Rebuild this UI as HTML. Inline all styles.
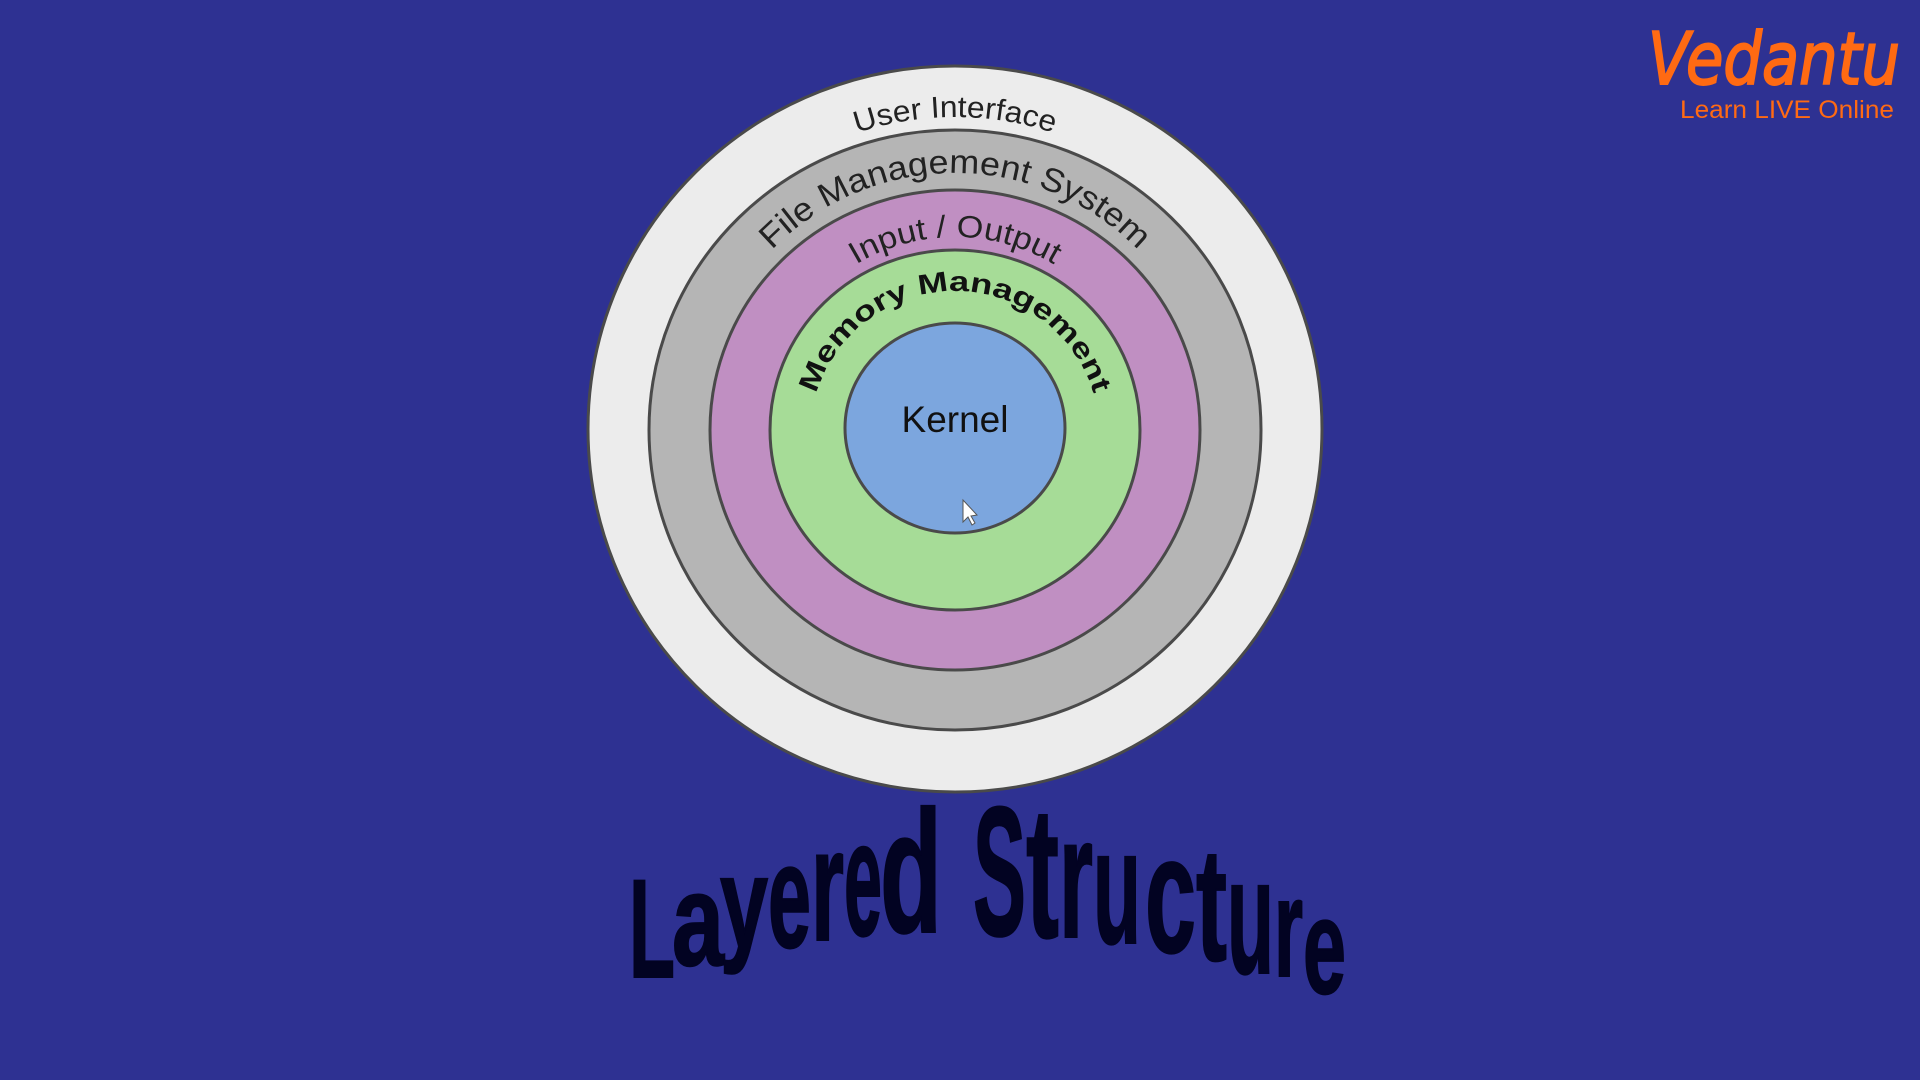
<!DOCTYPE html>
<html><head><meta charset="utf-8"><style>
html,body{margin:0;padding:0;background:#2e3192;}
svg{display:block}
</style></head><body>
<svg width="1920" height="1080" viewBox="0 0 1920 1080" xmlns="http://www.w3.org/2000/svg">
<rect width="1920" height="1080" fill="#2e3192"/>
<g stroke="#4a4a4a" stroke-width="3">
<ellipse cx="955" cy="429" rx="367" ry="363" fill="#ececec"/>
<ellipse cx="955" cy="430" rx="306" ry="300" fill="#b5b5b5"/>
<ellipse cx="955" cy="430" rx="245" ry="240" fill="#c08fc2"/>
<ellipse cx="955" cy="430" rx="185" ry="180" fill="#a6dc97"/>
<ellipse cx="955" cy="428" rx="110" ry="105" fill="#7ca6de"/>
</g>
<defs>
<path id="a1" d="M 643 429 A 312 312 0 0 1 1267 429"/>
<path id="a2" d="M 699 429 A 256 256 0 0 1 1211 429"/>
<path id="a3" d="M 763 429 A 192 192 0 0 1 1147 429"/>
<path id="a4" d="M 810 436 A 145 145 0 0 1 1100 436"/>
</defs>
<g font-family="Liberation Sans, sans-serif" fill="#222" text-anchor="middle">
<text font-size="30" textLength="200" lengthAdjust="spacingAndGlyphs"><textPath href="#a1" startOffset="50%">User Interface</textPath></text>
<text font-size="33" textLength="408" lengthAdjust="spacingAndGlyphs"><textPath href="#a2" startOffset="50%">File Management System</textPath></text>
<text font-size="31" textLength="208" lengthAdjust="spacingAndGlyphs"><textPath href="#a3" startOffset="50%">Input / Output</textPath></text>
<text font-size="28" font-weight="bold" fill="#111" textLength="370" lengthAdjust="spacingAndGlyphs"><textPath href="#a4" startOffset="50%">Memory Management</textPath></text>
<text x="955" y="432" font-size="37" fill="#111">Kernel</text>
</g>
<polygon points="963,500 963,522 968,517 972,525 975,523 971,516 977,515" fill="#fff" stroke="#555" stroke-width="1"/>
<g font-family="Liberation Sans, sans-serif" font-weight="bold" fill="#020322" stroke="#020322" stroke-width="2">
<text x="629" y="977" font-size="140" textLength="46" lengthAdjust="spacingAndGlyphs">L</text>
<text x="672" y="965" font-size="131" textLength="52" lengthAdjust="spacingAndGlyphs">a</text>
<text x="720" y="947" font-size="129" textLength="48" lengthAdjust="spacingAndGlyphs">y</text>
<text x="768" y="947" font-size="148" textLength="43" lengthAdjust="spacingAndGlyphs">e</text>
<text x="811" y="940" font-size="160" textLength="33" lengthAdjust="spacingAndGlyphs">r</text>
<text x="844" y="935" font-size="164" textLength="38" lengthAdjust="spacingAndGlyphs">e</text>
<text x="880" y="932" font-size="174" textLength="62" lengthAdjust="spacingAndGlyphs">d</text>
<text x="973" y="935" font-size="184" textLength="53" lengthAdjust="spacingAndGlyphs">S</text>
<text x="1026" y="937" font-size="187" textLength="33" lengthAdjust="spacingAndGlyphs">t</text>
<text x="1059" y="937" font-size="173" textLength="34" lengthAdjust="spacingAndGlyphs">r</text>
<text x="1093" y="943" font-size="163" textLength="48" lengthAdjust="spacingAndGlyphs">u</text>
<text x="1145" y="952" font-size="167" textLength="51" lengthAdjust="spacingAndGlyphs">c</text>
<text x="1196" y="960" font-size="161" textLength="31" lengthAdjust="spacingAndGlyphs">t</text>
<text x="1227" y="973" font-size="165" textLength="47" lengthAdjust="spacingAndGlyphs">u</text>
<text x="1274" y="976" font-size="140" textLength="29" lengthAdjust="spacingAndGlyphs">r</text>
<text x="1303" y="993" font-size="135" textLength="43" lengthAdjust="spacingAndGlyphs">e</text>
</g>
<g fill="#ff6a13" font-family="DejaVu Sans, sans-serif">
<text x="1648" y="84" font-size="72" font-style="italic" stroke="#ff6a13" stroke-width="2" textLength="252" lengthAdjust="spacingAndGlyphs">Vedantu</text>
<text x="1680" y="118" font-size="25" font-family="Liberation Sans, sans-serif" textLength="214" lengthAdjust="spacingAndGlyphs">Learn LIVE Online</text>
</g>
</svg>
</body></html>
